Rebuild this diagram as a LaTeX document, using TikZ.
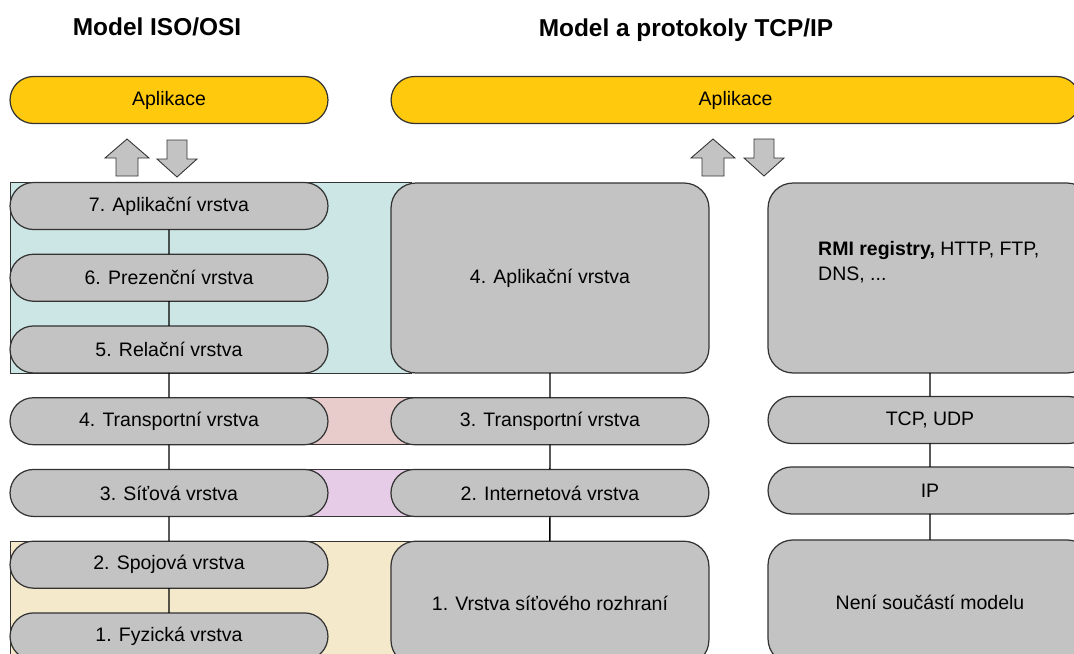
\documentclass[tikz,border=0pt]{standalone}
\usepackage{fontspec}
\setmainfont{Liberation Sans}
\usetikzlibrary{positioning, backgrounds, shapes.misc}
\definecolor{appyellow}{HTML}{FFC90E}
\definecolor{layergray}{HTML}{C3C3C3}
\definecolor{edgegray}{HTML}{333333}
\definecolor{bandcyan}{HTML}{CCE5E5}
\definecolor{bandpink}{HTML}{E8CCCC}
\definecolor{bandviolet}{HTML}{E6CCE6}
\definecolor{bandbeige}{HTML}{F5E9CB}
\newcommand{\layerfont}{\fontsize{11.1}{14.2}\selectfont}
\tikzset{%
	layer/.style={draw=edgegray, line width=0.7pt, rounded rectangle, minimum width=6.36cm,%
		minimum height=0.94cm, inner sep=0mm, outer sep=0pt, fill=layergray, font=\layerfont},
	block/.style={draw=edgegray, line width=0.7pt, rectangle, rounded corners=0.5cm,%
		minimum width=6.36cm, minimum height=3.8cm, inner sep=0mm, outer sep=0pt, fill=layergray, font=\layerfont},
	app/.style={layer, fill=appyellow},
	band/.style={draw=edgegray, line width=0.5pt},
	conn/.style={line width=0.8pt},
	title/.style={font=\fontsize{13.9}{16}\selectfont\bfseries},
	blockarrow/.style={draw=edgegray, line width=0.5pt, fill=layergray},
	uparrow/.pic={\draw[blockarrow] (0,0) -- (22,19) -- (11,19) -- (11,37) -- (-11,37) -- (-11,19) -- (-22,19) -- cycle;},
	downarrow/.pic={\draw[blockarrow] (0,0) -- (20,-18) -- (10,-18) -- (10,-37) -- (-10,-37) -- (-10,-18) -- (-20,-18) -- cycle;}
}
\begin{document}
\begin{tikzpicture}[x=0.02cm, y=-0.02cm, node distance=0.495cm]
		\useasboundingbox (0,0) rectangle (1074,653);
		\node[title] (osititle) at (157,27) {Model ISO/OSI};
		\node[title] (tcptitle) at (686,30) {Model a protokoly TCP/IP};
		\node[app] (appl) at (169,100) {Aplikace};
		\node[app, minimum width=13.78cm] (appr) at (735.5,100) {Aplikace};
		\pic at (127,139) {uparrow};
		\pic at (177,177) {downarrow};
		\pic at (713,139) {uparrow};
		\pic at (764,176) {downarrow};
		% ISO/OSI
		\node[layer] (osi7) at (169,206) {7. Aplikační vrstva};
		\node[layer] (osi6) [below=of osi7] {6. Prezenční vrstva};
		\node[layer] (osi5) [below=of osi6] {5. Relační vrstva};
		\node[layer] (osi4) [below=of osi5] {4. Transportní vrstva};
		\node[layer] (osi3) [below=of osi4] {3. Síťová vrstva};
		\node[layer] (osi2) [below=of osi3] {2. Spojová vrstva};
		\node[layer] (osi1) [below=of osi2] {1. Fyzická vrstva};
		% TCP/IP
		\node[block] (tcp4) at (550,278) {4. Aplikační vrstva};
		\node[layer] (tcp3) [right=1.26cm of osi4] {3. Transportní vrstva};
		\node[layer] (tcp2) [right=1.26cm of osi3] {2. Internetová vrstva};
		\node[block, minimum height=2.48cm] (tcp1) [below=of tcp2] {1. Vrstva síťového rozhraní};
		% protokoly
		\node[block, minimum width=6.48cm] (rmi) at (930,278) {};
		\node[font=\layerfont, align=left, anchor=west] (rmitext) [above right=0.32cm and 0.88cm of rmi.west, anchor=west]
			{\textbf{RMI registry,} HTTP, FTP,\\DNS, ...};
		\node[layer, minimum width=6.48cm, node distance=0.47cm] (tcpudp) [below=of rmi] {TCP, UDP};
		\node[layer, minimum width=6.48cm, node distance=0.47cm] (ip) [below=of tcpudp] {IP};
		\node[block, minimum width=6.48cm, minimum height=2.48cm, node distance=0.52cm] (neni) [below=of ip] {Není součástí modelu};
		\draw [conn] (osi7) -- (osi6);
		\draw [conn] (osi6) -- (osi5);
		\draw [conn] (osi5) -- (osi4);
		\draw [conn] (osi4) -- (osi3);
		\draw [conn] (osi3) -- (osi2);
		\draw [conn] (osi2) -- (osi1);
		\draw [conn] (tcp4) -- (tcp3);
		\draw [conn] (tcp3) -- (tcp2);
		\draw [conn] (tcp2) -- (tcp1);
		\draw [conn] (rmi) -- (tcpudp);
		\draw [conn] (tcpudp) -- (ip);
		\draw [conn] (ip) -- (neni);

		\begin{scope}[on background layer]
			\draw [band, fill=bandcyan] (osi7.west |- osi7.north) rectangle ([xshift=4mm]tcp4.south west);
			\draw [band, fill=bandpink] (osi4.north) rectangle (tcp3.south);
			\draw [band, fill=bandviolet] (osi3.north) rectangle (tcp2.south);
			\draw [band, fill=bandbeige] (osi2.west |- osi2.north) rectangle ([xshift=4mm]tcp1.south west);
		\end{scope}
	\end{tikzpicture}
\end{document}
